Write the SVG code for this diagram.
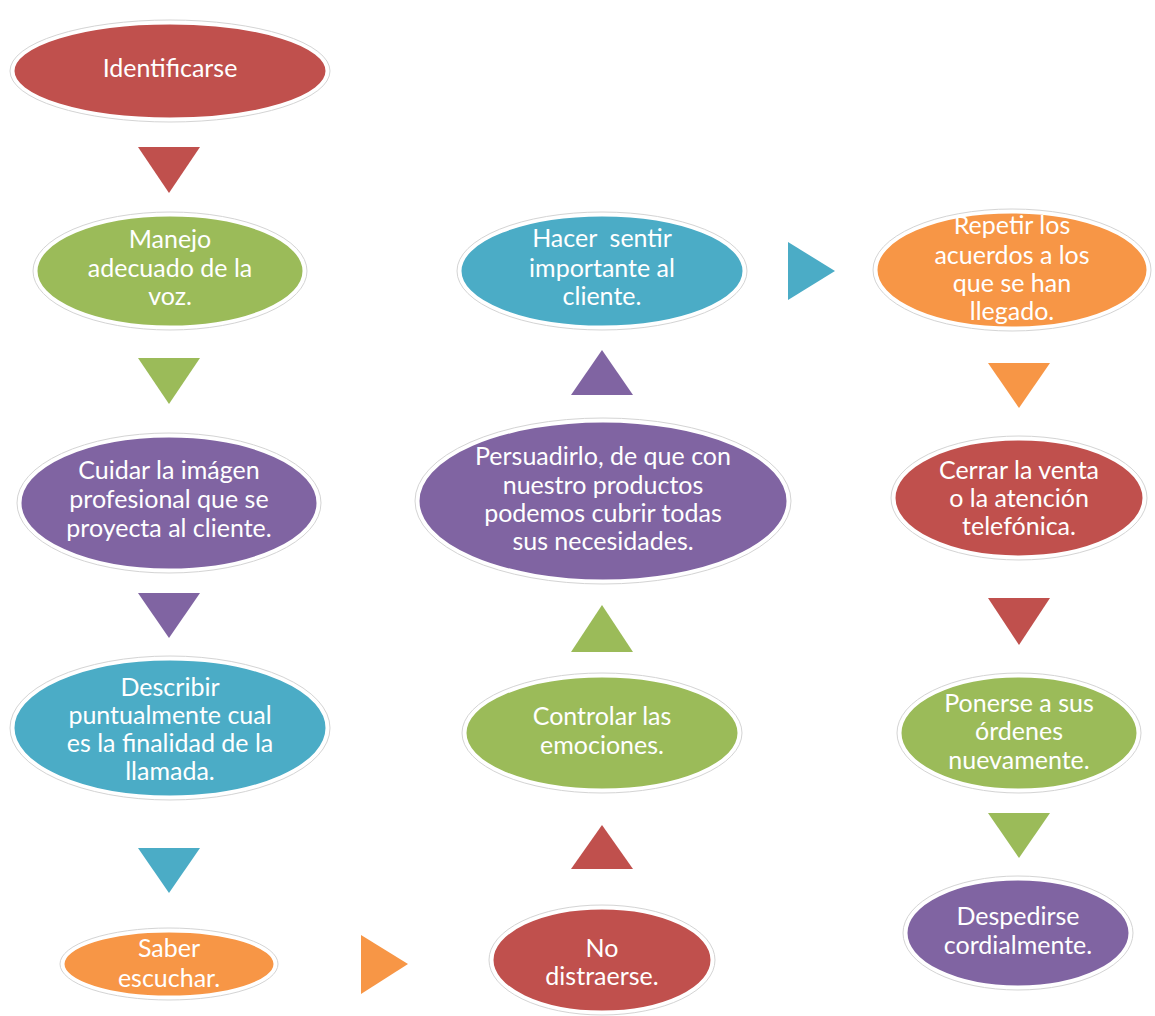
<svg xmlns="http://www.w3.org/2000/svg" width="1155" height="1016" viewBox="0 0 1155 1016">
<style>
.halo{fill:none;stroke:#d4d4d4;stroke-width:1}
.sh{stroke:#ffffff;stroke-width:3}
.red{fill:#C0504D}.green{fill:#9BBB59}.purple{fill:#8064A2}.teal{fill:#4BACC6}.orange{fill:#F79646}
text{font-family:Lato,"Open Sans","Liberation Sans",sans-serif;font-size:25px;fill:#ffffff;text-anchor:middle}
</style>
<rect width="1155" height="1016" fill="#ffffff"/>
<g id="connectors">
<polygon class="red" points="138,147 200,147 169,193"/>
<polygon class="green" points="138,358 200,358 169,404"/>
<polygon class="purple" points="138,593 200,593 169,638"/>
<polygon class="teal" points="138,848 200,848 169,893"/>
<polygon class="orange" points="361,935 361,994 408,964"/>
<polygon class="red" points="571,869 633,869 602,825"/>
<polygon class="green" points="571,652 633,652 602,605"/>
<polygon class="purple" points="571,395 633,395 602,350"/>
<polygon class="teal" points="788,242 788,300 835,271"/>
<polygon class="orange" points="988,363 1050,363 1019,408"/>
<polygon class="red" points="988,598 1050,598 1019,645"/>
<polygon class="green" points="988,813 1050,813 1019,858"/>
</g>
<g id="n1">
<ellipse class="halo" cx="170" cy="71" rx="160" ry="51"/>
<ellipse class="red sh" cx="170" cy="71" rx="157" ry="48"/>
<text x="170" y="77">Identificarse</text>
</g>
<g id="n2">
<ellipse class="halo" cx="170" cy="271" rx="137" ry="59"/>
<ellipse class="green sh" cx="170" cy="271" rx="134" ry="56"/>
<text x="170" y="248">Manejo</text>
<text x="170" y="277">adecuado de la</text>
<text x="170" y="305">voz.</text>
</g>
<g id="n3">
<ellipse class="halo" cx="169" cy="503" rx="152" ry="70"/>
<ellipse class="purple sh" cx="169" cy="503" rx="149" ry="67"/>
<text x="169" y="479">Cuidar la imágen</text>
<text x="169" y="508">profesional que se</text>
<text x="169" y="537">proyecta al cliente.</text>
</g>
<g id="n4">
<ellipse class="halo" cx="170" cy="728" rx="160" ry="72"/>
<ellipse class="teal sh" cx="170" cy="728" rx="157" ry="69"/>
<text x="170" y="696">Describir</text>
<text x="170" y="724">puntualmente cual</text>
<text x="170" y="752">es la finalidad de la</text>
<text x="170" y="780">llamada.</text>
</g>
<g id="n5">
<ellipse class="halo" cx="169" cy="964" rx="109" ry="36"/>
<ellipse class="orange sh" cx="169" cy="964" rx="106" ry="33"/>
<text x="169" y="957">Saber</text>
<text x="169" y="987">escuchar.</text>
</g>
<g id="n6">
<ellipse class="halo" cx="602" cy="960" rx="113" ry="55"/>
<ellipse class="red sh" cx="602" cy="960" rx="110" ry="52"/>
<text x="602" y="957">No</text>
<text x="602" y="985">distraerse.</text>
</g>
<g id="n7">
<ellipse class="halo" cx="602" cy="733" rx="140" ry="60"/>
<ellipse class="green sh" cx="602" cy="733" rx="137" ry="57"/>
<text x="602" y="725">Controlar las</text>
<text x="602" y="754">emociones.</text>
</g>
<g id="n8">
<ellipse class="halo" cx="603" cy="501" rx="188" ry="83"/>
<ellipse class="purple sh" cx="603" cy="501" rx="185" ry="80"/>
<text x="603" y="465">Persuadirlo, de que con</text>
<text x="603" y="494">nuestro productos</text>
<text x="603" y="522">podemos cubrir todas</text>
<text x="603" y="550">sus necesidades.</text>
</g>
<g id="n9">
<ellipse class="halo" cx="602" cy="271" rx="145" ry="59"/>
<ellipse class="teal sh" cx="602" cy="271" rx="142" ry="56"/>
<text x="602" y="247" xml:space="preserve">Hacer  sentir</text>
<text x="602" y="277">importante al</text>
<text x="602" y="305">cliente.</text>
</g>
<g id="n10">
<ellipse class="halo" cx="1012" cy="270" rx="139" ry="61"/>
<ellipse class="orange sh" cx="1012" cy="270" rx="136" ry="58"/>
<text x="1012" y="234">Repetir los</text>
<text x="1012" y="264">acuerdos a los</text>
<text x="1012" y="292">que se han</text>
<text x="1012" y="320">llegado.</text>
</g>
<g id="n11">
<ellipse class="halo" cx="1019" cy="498" rx="128" ry="62"/>
<ellipse class="red sh" cx="1019" cy="498" rx="125" ry="59"/>
<text x="1019" y="479">Cerrar la venta</text>
<text x="1019" y="507">o la atención</text>
<text x="1019" y="535">telefónica.</text>
</g>
<g id="n12">
<ellipse class="halo" cx="1019" cy="733" rx="122" ry="60"/>
<ellipse class="green sh" cx="1019" cy="733" rx="119" ry="57"/>
<text x="1019" y="712">Ponerse a sus</text>
<text x="1019" y="740">órdenes</text>
<text x="1019" y="769">nuevamente.</text>
</g>
<g id="n13">
<ellipse class="halo" cx="1018" cy="933" rx="115" ry="57"/>
<ellipse class="purple sh" cx="1018" cy="933" rx="112" ry="54"/>
<text x="1018" y="925">Despedirse</text>
<text x="1018" y="954">cordialmente.</text>
</g>
</svg>
